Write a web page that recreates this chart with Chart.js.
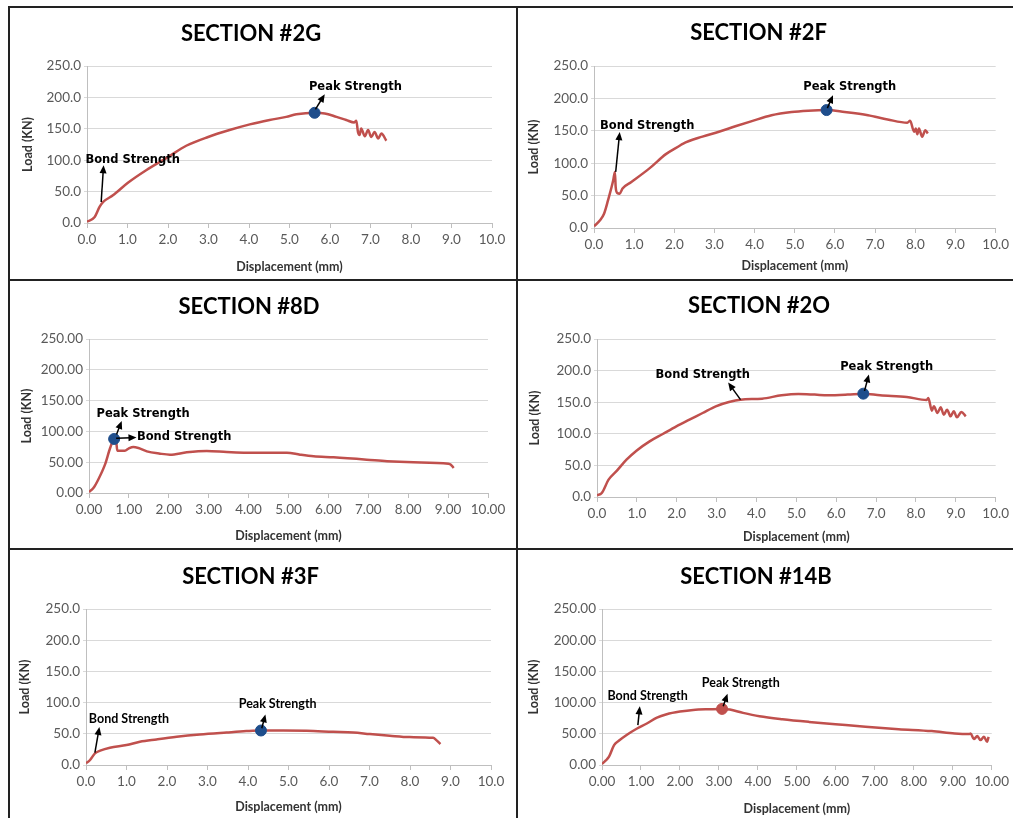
<!DOCTYPE html>
<html>
<head>
<meta charset="utf-8">
<script src="https://cdn.jsdelivr.net/npm/chart.js@4.4.1/dist/chart.umd.min.js"></script>
<style>
    body { margin: 0; background: #fff; width: 1013px; height: 818px; position: relative; overflow: hidden; }
    canvas { position: absolute; }
    .rule { position: absolute; background: #222; }
</style>
</head>
<body>
<div class="rule" style="left:8px;top:6px;width:1005px;height:2px"></div>
<div class="rule" style="left:8px;top:6px;width:2px;height:812px"></div>
<div class="rule" style="left:516px;top:6px;width:2px;height:812px"></div>
<div class="rule" style="left:8px;top:279px;width:1005px;height:2px"></div>
<div class="rule" style="left:8px;top:548px;width:1005px;height:2px"></div>

<canvas id="c2G" width="506" height="271" style="left:10px;top:8px"></canvas>
<canvas id="c2F" width="495" height="271" style="left:518px;top:8px"></canvas>
<canvas id="c8D" width="506" height="267" style="left:10px;top:281px"></canvas>
<canvas id="c2O" width="495" height="267" style="left:518px;top:281px"></canvas>
<canvas id="c3F" width="506" height="268" style="left:10px;top:550px"></canvas>
<canvas id="c14B" width="495" height="268" style="left:518px;top:550px"></canvas>

<script>
// Datos: desplazamiento (mm) y carga (KN)

// SECTION #2G
const disp2G = [0, 0.19, 0.31, 0.40, 0.64, 1.01, 1.46, 2.0, 2.45, 2.99, 3.52, 4.02, 4.51, 4.92, 5.17, 5.62, 5.87, 6.16, 6.40, 6.60, 6.65, 6.69, 6.73, 6.77, 6.86, 6.94, 7.02, 7.10, 7.19, 7.27, 7.39];
const load2G = [2, 9.6, 25.5, 33.5, 44, 64, 84, 105, 123, 137, 148, 157, 164, 169, 173, 175.5, 174.5, 169, 164, 160, 163, 145, 140, 150.5, 138, 148, 137, 145, 134.5, 142.5, 131];
const peak2G = [5.62, 175.5];

// SECTION #2F
const disp2F = [0, 0.15, 0.25, 0.35, 0.48, 0.52, 0.54, 0.58, 0.64, 0.71, 0.93, 1.38, 1.79, 2.16, 2.21, 2.70, 3.11, 3.52, 3.93, 4.42, 4.92, 5.33, 5.79, 6.24, 6.82, 7.31, 7.80, 7.87, 7.97, 8.01, 8.05, 8.09, 8.17, 8.25, 8.31];
const load2F = [2.6, 11.9, 22, 43, 74, 86.6, 63, 54, 53, 61, 71, 92, 114, 128, 130, 141, 148.5, 157, 165, 174, 179, 181, 182, 179, 174, 167.5, 162.4, 165.5, 148.5, 153.6, 144.8, 153.6, 140.7, 151, 146];
const peak2F = [5.79, 182];

// SECTION #8D
const disp8D = [0, 0.11, 0.23, 0.40, 0.53, 0.63, 0.68, 0.71, 0.90, 0.99, 1.11, 1.24, 1.45, 1.78, 2.03, 2.45, 2.95, 3.45, 3.95, 4.96, 5.29, 5.63, 6.13, 6.96, 7.47, 8.13, 9.01, 9.07, 9.14];
const load8D = [1.6, 8, 21.6, 46, 73, 87.7, 84, 68.7, 68.7, 72, 74.7, 73, 67.6, 63.9, 62.2, 66, 68.2, 66.6, 65.5, 65.5, 62.2, 59.5, 57.9, 54.1, 51.4, 49.8, 47.6, 46, 40.6];
const peak8D = [0.63, 87.7];

// SECTION #2O
const disp2O = [0, 0.12, 0.29, 0.50, 0.74, 0.99, 1.32, 1.65, 1.99, 2.32, 2.65, 2.98, 3.31, 3.60, 4.14, 4.63, 5.05, 5.46, 5.79, 6.29, 6.68, 7.10, 7.77, 8.27, 8.31, 8.40, 8.45, 8.54, 8.62, 8.70, 8.78, 8.87, 8.95, 9.03, 9.14, 9.25];
const load2O = [2.6, 6.3, 27.4, 41.7, 59, 73.3, 88, 99.7, 111.8, 122.4, 132.9, 143.5, 150.3, 154, 155.6, 160.9, 163, 162, 160.9, 162, 163.5, 160.9, 158.2, 153.5, 156.6, 136.6, 143.5, 132.9, 141.9, 130.3, 138.2, 127.6, 135.5, 126, 134.5, 127.6];
const peak2O = [6.68, 163.5];

// SECTION #3F
const disp3F = [0, 0.10, 0.22, 0.35, 0.59, 1.0, 1.33, 1.74, 2.24, 2.81, 3.47, 3.96, 4.32, 4.87, 5.45, 6.10, 6.60, 7.01, 7.50, 7.99, 8.57, 8.65, 8.75];
const load3F = [2.7, 8, 18.6, 22.9, 27.7, 31.9, 37.2, 41, 45.2, 48.9, 52.1, 54.3, 55.3, 55.3, 54.8, 53.2, 52.1, 49.5, 46.8, 44.7, 43.6, 39.9, 33.5];
const peak3F = [4.32, 55.3];

// SECTION #14B
const disp14B = [0, 0.09, 0.18, 0.31, 0.43, 0.65, 0.90, 1.15, 1.41, 1.66, 2.00, 2.34, 2.77, 3.08, 3.28, 3.62, 4.04, 4.63, 5.31, 5.99, 6.76, 7.61, 8.46, 9.05, 9.41, 9.46, 9.54, 9.63, 9.71, 9.80, 9.88, 9.92];
const load14B = [1.6, 6.9, 13.3, 31.9, 38.8, 48.9, 58.5, 66.5, 76.1, 81.4, 85.6, 88.3, 89.4, 89.9, 88.8, 83.5, 78.2, 73.4, 69.1, 65.4, 61.2, 57.4, 54.3, 50.5, 49.5, 50.5, 41.5, 46.3, 39.9, 45.2, 37.2, 45.2];
const peak14B = [3.08, 89.9];

// Ejes
const xTicks = [0, 1, 2, 3, 4, 5, 6, 7, 8, 9, 10];
const yTicks = [0, 50, 100, 150, 200, 250];

const RED = '#c0504d';
const BLUE = '#1f4e8c';

// Flechas y textos (coordenadas en unidades de datos)
const annotationPlugin = {
    id: 'strengthNotes',
    afterDatasetsDraw(chart, args, opts) {
        const { ctx } = chart;
        const xs = chart.scales.x, ys = chart.scales.y;
        (opts.notes || []).forEach(n => {
            const x1 = xs.getPixelForValue(n.from[0]), y1 = ys.getPixelForValue(n.from[1]);
            const x2 = xs.getPixelForValue(n.to[0]), y2 = ys.getPixelForValue(n.to[1]);
            const ang = Math.atan2(y2 - y1, x2 - x1);
            ctx.save();
            ctx.strokeStyle = '#000';
            ctx.fillStyle = '#000';
            ctx.lineWidth = 1.5;
            ctx.beginPath();
            ctx.moveTo(x1, y1);
            ctx.lineTo(x2 - 5 * Math.cos(ang), y2 - 5 * Math.sin(ang));
            ctx.stroke();
            ctx.beginPath();
            ctx.moveTo(x2, y2);
            ctx.lineTo(x2 - 8 * Math.cos(ang) + 3.5 * Math.sin(ang), y2 - 8 * Math.sin(ang) - 3.5 * Math.cos(ang));
            ctx.lineTo(x2 - 8 * Math.cos(ang) - 3.5 * Math.sin(ang), y2 - 8 * Math.sin(ang) + 3.5 * Math.cos(ang));
            ctx.closePath();
            ctx.fill();
            ctx.font = opts.font;
            ctx.textAlign = 'left';
            ctx.textBaseline = 'middle';
            ctx.fillText(n.text, xs.getPixelForValue(n.at[0]), ys.getPixelForValue(n.at[1]));
            ctx.restore();
        });
    }
};

const panels = [
    { id: 'c2G', title: 'SECTION #2G', disp: disp2G, load: load2G, peak: peak2G, dot: BLUE, dec: 1,
      area: { left: 77, right: 482, top: 58, bottom: 215 }, titleY: 26, xTitleY: 259, yTitleX: 18,
      font: 'bold 11.5px "DejaVu Sans"',
      notes: [
        { text: 'Bond Strength', at: [-0.04, 100], from: [0.35, 33.5], to: [0.41, 92] },
        { text: 'Peak Strength', at: [5.48, 216], from: [5.64, 181], to: [5.87, 205] }
      ] },
    { id: 'c2F', title: 'SECTION #2F', disp: disp2F, load: load2F, peak: peak2F, dot: BLUE, dec: 1,
      area: { left: 76, right: 481, top: 58, bottom: 220 }, titleY: 25, xTitleY: 258, yTitleX: 16,
      font: 'bold 11.5px "DejaVu Sans"',
      notes: [
        { text: 'Bond Strength', at: [0.15, 158], from: [0.54, 86.6], to: [0.64, 148] },
        { text: 'Peak Strength', at: [5.21, 217], from: [5.81, 185], to: [5.95, 205] }
      ] },
    { id: 'c8D', title: 'SECTION #8D', disp: disp8D, load: load8D, peak: peak8D, dot: BLUE, dec: 2,
      area: { left: 79, right: 478, top: 58, bottom: 212 }, titleY: 26, xTitleY: 255, yTitleX: 17,
      font: 'bold 11.5px "DejaVu Sans"',
      notes: [
        { text: 'Peak Strength', at: [0.19, 128], from: [0.69, 95], to: [0.82, 117] },
        { text: 'Bond Strength', at: [1.20, 90.4], from: [0.68, 89], to: [1.19, 90] }
      ] },
    { id: 'c2O', title: 'SECTION #2O', disp: disp2O, load: load2O, peak: peak2O, dot: BLUE, dec: 1,
      area: { left: 79, right: 482, top: 58, bottom: 216 }, titleY: 25, xTitleY: 256, yTitleX: 17,
      font: 'bold 11.5px "DejaVu Sans"',
      notes: [
        { text: 'Bond Strength', at: [1.47, 193.6], from: [3.6, 154], to: [3.29, 181] },
        { text: 'Peak Strength', at: [6.10, 205], from: [6.71, 168], to: [6.82, 194] }
      ] },
    { id: 'c3F', title: 'SECTION #3F', disp: disp3F, load: load3F, peak: peak3F, dot: BLUE, dec: 1,
      area: { left: 76, right: 481, top: 59, bottom: 215 }, titleY: 27, xTitleY: 257, yTitleX: 15,
      font: 'bold 12.5px Lato',
      notes: [
        { text: 'Bond Strength', at: [0.07, 73], from: [0.22, 19.7], to: [0.33, 61] },
        { text: 'Peak Strength', at: [3.77, 97.3], from: [4.34, 59], to: [4.43, 81] }
      ] },
    { id: 'c14B', title: 'SECTION #14B', disp: disp14B, load: load14B, peak: peak14B, dot: RED, dec: 2,
      area: { left: 84, right: 476, top: 59, bottom: 215 }, titleY: 27, xTitleY: 259, yTitleX: 16,
      font: 'bold 12.5px Lato',
      notes: [
        { text: 'Bond Strength', at: [0.14, 110.6], from: [0.92, 63.8], to: [0.97, 94] },
        { text: 'Peak Strength', at: [2.56, 131], from: [3.11, 94], to: [3.22, 114] }
      ] }
];

const renderPanel = (p) => {
    const canvas = document.getElementById(p.id);
    const W = canvas.width, H = canvas.height;
    const ctx = canvas.getContext('2d');
    const titleHalf = 22 * 1.2 / 2;
    const axisHalf = 12.5 * 1.2 / 2;

    new Chart(ctx, {
        type: 'line',
        data: {
            datasets: [
                {
                    data: [{ x: p.peak[0], y: p.peak[1] }],
                    showLine: false,
                    pointRadius: 5.5,
                    pointBackgroundColor: p.dot,
                    pointBorderColor: p.dot,
                    order: 0
                },
                {
                    data: p.disp.map((d, i) => ({ x: d, y: p.load[i] })),
                    borderColor: RED,
                    borderWidth: 2.5,
                    pointRadius: 0,
                    cubicInterpolationMode: 'monotone',
                    order: 1
                }
            ]
        },
        options: {
            responsive: false,
            animation: false,
            devicePixelRatio: 1,
            layout: { padding: { left: 0, top: 0, bottom: 0, right: W - p.area.right } },
            plugins: {
                legend: { display: false },
                tooltip: { enabled: false },
                title: {
                    display: true,
                    text: p.title,
                    color: '#000',
                    font: { family: 'Lato', size: 22, weight: 'bold' },
                    padding: { top: p.titleY - titleHalf, bottom: p.area.top - p.titleY - titleHalf }
                },
                strengthNotes: { notes: p.notes, font: p.font }
            },
            scales: {
                x: {
                    type: 'linear',
                    min: xTicks[0],
                    max: xTicks[xTicks.length - 1],
                    afterBuildTicks: s => { s.ticks = xTicks.map(v => ({ value: v })); },
                    afterFit: s => { s.height = H - p.area.bottom; },
                    grid: { drawOnChartArea: false, drawTicks: true, tickLength: 5, color: '#bfbfbf' },
                    border: { color: '#bfbfbf', width: 1 },
                    ticks: {
                        padding: 4,
                        maxRotation: 0,
                        color: '#595959',
                        font: { family: 'Lato', size: 13.5 },
                        callback: v => Number(v).toFixed(p.dec)
                    },
                    title: {
                        display: true,
                        text: 'Displacement (mm)',
                        color: '#333',
                        font: { family: 'Lato', size: 12.5, weight: 'bold' },
                        padding: { top: 0, bottom: H - p.xTitleY - axisHalf }
                    }
                },
                y: {
                    min: yTicks[0],
                    max: yTicks[yTicks.length - 1],
                    afterBuildTicks: s => { s.ticks = yTicks.map(v => ({ value: v })); },
                    afterFit: s => { s.width = p.area.left; },
                    grid: { color: '#d9d9d9', tickLength: 3 },
                    border: { color: '#bfbfbf', width: 1 },
                    ticks: {
                        padding: 3,
                        color: '#595959',
                        font: { family: 'Lato', size: 13.5 },
                        callback: v => Number(v).toFixed(p.dec)
                    },
                    title: {
                        display: true,
                        text: 'Load (KN)',
                        color: '#333',
                        font: { family: 'Lato', size: 12.5, weight: 'bold' },
                        padding: { top: p.yTitleX - axisHalf, bottom: 0 }
                    }
                }
            }
        },
        plugins: [annotationPlugin]
    });
};

panels.forEach(renderPanel);
</script>
</body>
</html>
